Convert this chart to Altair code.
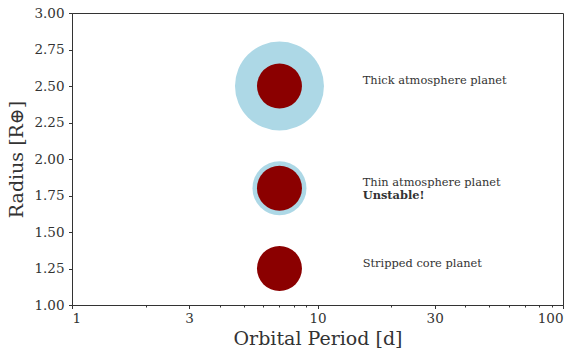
import altair as alt
import pandas as pd

# Planet states at a common orbital period
periods = [7, 7, 7]
radii = [2.5, 1.8, 1.25]
atmospheres = ["thick", "thin", "none"]
labels = ["Thick atmosphere planet", "Thin atmosphere planet", "Stripped core planet"]
label_period = 15
notes = ["", "Unstable!", ""]

major_ticks = [1, 3, 10, 30, 100]
minor_ticks = [2, 4, 5, 6, 7, 8, 9, 20, 40, 50, 60, 70, 80, 90]
y_ticks = [1.00, 1.25, 1.50, 1.75, 2.00, 2.25, 2.50, 2.75, 3.00]

df = pd.DataFrame({
    "period": periods,
    "radius": radii,
    "atmosphere": atmospheres,
    "label": labels,
    "label_period": [label_period] * len(periods),
    "note": notes,
})

FONT = "DejaVu Serif"
INK = "#333333"

xscale = alt.Scale(type="log", domain=[1, 100], nice=False)
yscale = alt.Scale(domain=[1, 3], nice=False, zero=False)
y_axis = alt.Axis(values=y_ticks, format=".2f", title="Radius [R⊕]",
                  tickSize=3.5, grid=False, labelOverlap=False, labelPadding=4.5)

base = alt.Chart(df)

# Atmosphere envelopes (drawn first, behind the cores)
envelope = base.transform_filter(alt.datum.atmosphere != "none").mark_circle(
    color="#ADD8E6", opacity=1
).encode(
    x=alt.X("period:Q", scale=xscale,
            axis=alt.Axis(values=major_ticks, labelExpr="format(datum.value, 'd')",
                          title="Orbital Period [d]", tickSize=3.5, grid=False,
                          orient="bottom", labelOverlap=False)),
    y=alt.Y("radius:Q", scale=yscale, axis=y_axis),
    size=alt.Size("atmosphere:N",
                  scale=alt.Scale(domain=["thick", "thin"], range=[7921, 2916]),
                  legend=None),
)

# Rocky cores
core = base.mark_circle(color="#8B0000", opacity=1, size=2025).encode(
    x=alt.X("period:Q", scale=xscale, axis=None),
    y=alt.Y("radius:Q", scale=yscale, axis=y_axis),
)

# Minor log ticks on the period axis
minor = base.mark_point(opacity=0).encode(
    x=alt.X("period:Q", scale=xscale,
            axis=alt.Axis(values=minor_ticks, labels=False, tickSize=2,
                          domain=False, title=None, grid=False, orient="bottom")),
    y=alt.Y("radius:Q", scale=yscale, axis=y_axis),
)

text = base.mark_text(
    align="left", baseline="alphabetic", dx=2, dy=-2, font=FONT, fontSize=11.4,
    color=INK
).encode(
    x=alt.X("label_period:Q", scale=xscale, axis=None),
    y=alt.Y("radius:Q", scale=yscale, axis=y_axis),
    text="label:N",
)

note = base.transform_filter(alt.datum.note != "").mark_text(
    align="left", baseline="alphabetic", dx=2, dy=11, font=FONT, fontSize=11.4,
    fontWeight="bold", color=INK
).encode(
    x=alt.X("label_period:Q", scale=xscale, axis=None),
    y=alt.Y("radius:Q", scale=yscale, axis=y_axis),
    text="note:N",
)

chart = alt.layer(envelope, core, minor, text, note).resolve_axis(
    x="independent"
).properties(
    width=491, height=292,
    autosize=alt.AutoSizeParams(type="none"),
    padding={"left": 72, "top": 13, "right": 16, "bottom": 44},
).configure_view(
    stroke=INK, strokeWidth=1
).configure_axis(
    domainColor=INK, tickColor=INK, labelColor=INK, titleColor=INK,
    labelFont=FONT, titleFont=FONT, labelFontSize=13.5, titleFontSize=19,
    titleFontWeight="normal", labelPadding=3,
).configure_axisX(
    titlePadding=4,
).configure_axisY(
    titlePadding=7,
)

chart.save("out.html", embed_options={"renderer": "svg", "actions": False})
